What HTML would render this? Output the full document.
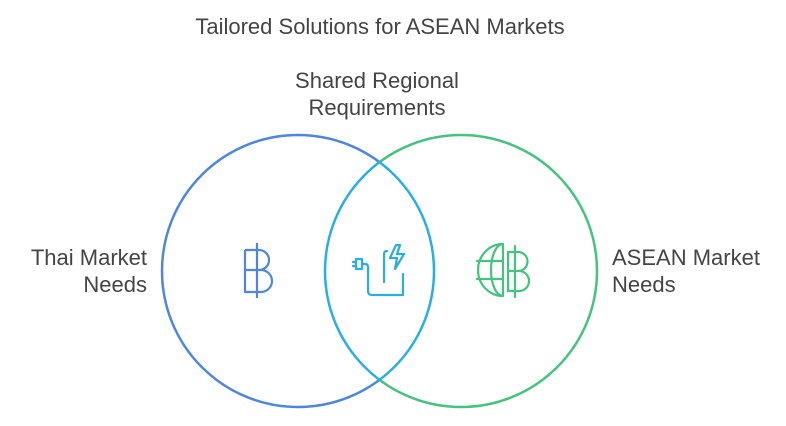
<!DOCTYPE html>
<html><head><style>
body{margin:0;background:#fff;width:786px;height:421px;overflow:hidden;font-family:"Liberation Sans",sans-serif}
</style></head><body>
<svg width="786" height="421" xmlns="http://www.w3.org/2000/svg" font-family="Liberation Sans, sans-serif" fill="#444">
<defs>
<clipPath id="inL"><circle cx="298" cy="271" r="136"/></clipPath>
<clipPath id="inR"><circle cx="461" cy="271" r="136"/></clipPath>
<mask id="outR"><rect width="786" height="421" fill="#fff"/><circle cx="461" cy="271" r="136" fill="#000"/></mask>
<mask id="outL"><rect width="786" height="421" fill="#fff"/><circle cx="298" cy="271" r="136" fill="#000"/></mask>
</defs>
<g fill="none" stroke-width="2.5">
<circle cx="298" cy="271" r="136" stroke="#4f86dd" mask="url(#outR)"/>
<circle cx="461" cy="271" r="136" stroke="#45c27e" mask="url(#outL)"/>
<circle cx="298" cy="271" r="136" stroke="#2aaee0" clip-path="url(#inR)"/>
<circle cx="461" cy="271" r="136" stroke="#2aaee0" clip-path="url(#inL)"/>
</g>
<g font-size="22">
<text x="380" y="34" text-anchor="middle">Tailored Solutions for ASEAN Markets</text>
<text x="377" y="88" text-anchor="middle">Shared Regional</text>
<text x="377" y="115" text-anchor="middle">Requirements</text>
<text x="147" y="265" text-anchor="end">Thai Market</text>
<text x="147" y="292" text-anchor="end">Needs</text>
<text x="612" y="265">ASEAN Market</text>
<text x="612" y="292">Needs</text>
</g>
<g fill="none" stroke="#4f86dd" stroke-width="2.2" stroke-linejoin="round">
<path d="M245 250 V292 H261 a11 11 0 0 0 0 -22 H245 M245 250 H259 a10 10 0 0 1 0 20 M257 243 V298"/>
</g>
<g fill="none" stroke="#2aaee0" stroke-width="2.2" stroke-linejoin="round" stroke-linecap="round">
<path d="M356 259 h6 v10 h-6 z M353 262 h3 M353 266 h3 M362 264 h3 q3 0 3 3 v24 q0 4 4 4 h31 v-21 M384 282 v-28 q0 -3 3 -3"/>
<path d="M396 245 l-6 13 h7 l-2 11 l9 -15 h-7 l3 -9 z"/>
</g>
<g fill="none" stroke="#45c27e" stroke-width="2.2" stroke-linecap="round">
<path d="M503 244 a25 26 0 0 0 0 52 M503 244 a12 26 0 0 0 0 52 M477 261 h26 M477 279 h26 M503 244 V296"/>
<path d="M508 252 V291 h11 a10 10 0 0 0 0 -20 h-11 M508 252 h10 a9.5 9.5 0 0 1 0 19 M515 246 V297"/>
</g>
</svg>
</body></html>
